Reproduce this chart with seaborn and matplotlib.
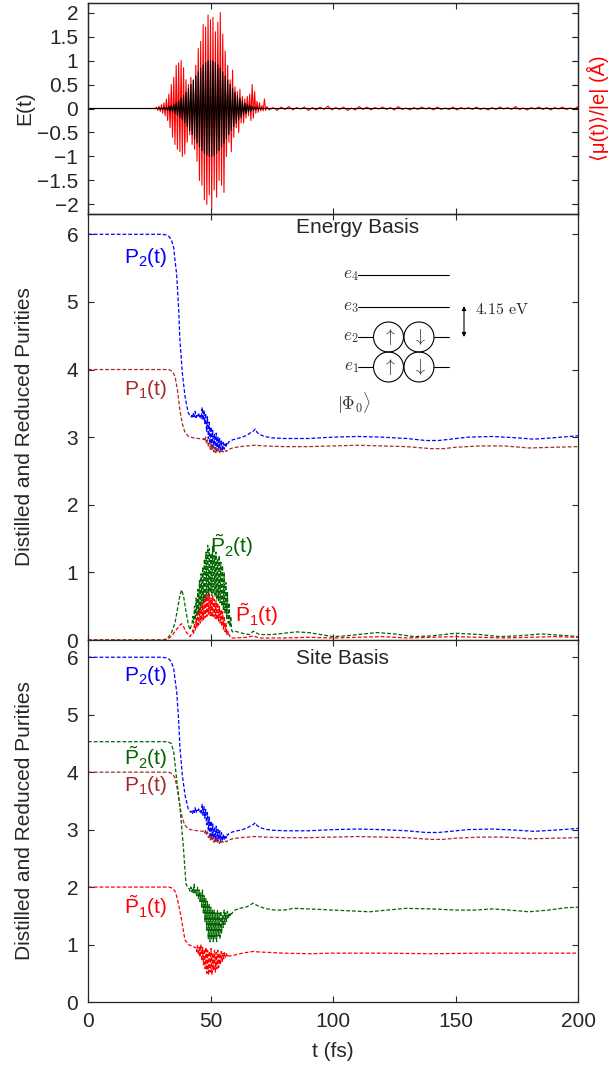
import numpy as np
import matplotlib as mpl
mpl.use("Agg")
import matplotlib.pyplot as plt
import seaborn as sns
from matplotlib.patches import Circle

# ---------------- data ----------------
t_ticks = [0, 50, 100, 150, 200]
e_ticks = [-2, -1.5, -1, -0.5, 0, 0.5, 1, 1.5, 2]
e_tick_labels = ["\u22122", "\u22121.5", "\u22121", "\u22120.5", "0", "0.5", "1", "1.5", "2"]
p_ticks = [0, 1, 2, 3, 4, 5, 6]

# laser field E(t): one value every half cycle between 25 and 75 fs
e_span = (25, 75)
e_osc = [
    0.001, -0.002, 0.002, -0.003, 0.003, -0.004, 0.005, -0.007, 0.009, -0.011,
    0.013, -0.016, 0.020, -0.025, 0.030, -0.037, 0.044, -0.053, 0.063, -0.074,
    0.088, -0.103, 0.12, -0.139, 0.161, -0.185, 0.211, -0.239, 0.27, -0.304,
    0.339, -0.377, 0.417, -0.458, 0.501, -0.544, 0.589, -0.633, 0.678, -0.721,
    0.763, -0.803, 0.841, -0.876, 0.907, -0.935, 0.958, -0.976, 0.989, -0.997,
    1.0,
    -0.997, 0.989, -0.976, 0.958, -0.935, 0.907, -0.876, 0.841, -0.803, 0.763,
    -0.721, 0.678, -0.633, 0.589, -0.544, 0.501, -0.458, 0.417, -0.377, 0.339,
    -0.304, 0.27, -0.239, 0.211, -0.185, 0.161, -0.139, 0.12, -0.103, 0.088,
    -0.074, 0.063, -0.053, 0.044, -0.037, 0.03, -0.025, 0.02, -0.016, 0.013,
    -0.011, 0.009, -0.007, 0.005, -0.004, 0.003, -0.003, 0.002, -0.002, 0.001,
]

# induced dipole <mu(t)>/|e|
mu_span = (28, 73)
mu_osc = [
    0.03, -0.04, 0.05, -0.06, 0.08, -0.1, 0.12, -0.15, 0.2, -0.25,
    0.3, -0.4, 0.5, -0.6, 0.65, -0.75, 0.9, -0.85, 0.95, -0.9,
    1.0, -1.0, 0.85, -0.95, 0.6, -0.7, 0.5, -0.55, 0.65, -0.75,
    0.6, -0.85, 0.9, -1.1, 1.25, -1.5, 1.4, -1.6, 1.75, -1.9,
    1.7, -2.0, 1.95, -1.8, 1.85, -2.1, 1.9, -1.7, 1.6, -1.85,
    1.8, -1.5, 2.0, -1.6, 1.55, -1.75, 1.2, -1.0, 0.9, -0.7,
    0.6, -0.9, 0.8, -0.6, 0.45, -0.4, 0.35, -0.5, 0.4, -0.3,
    0.25, -0.3, 0.2, -0.2, 0.25, -0.15, 0.3, -0.25, 0.5, -0.2,
    0.35, -0.1, 0.15, -0.08, 0.12, -0.05, 0.06, -0.05, 0.2, -0.04,
    0.04,
]
mu_tail_span = (74, 200)
mu_tail = [
    -0.03, 0.02, -0.04, 0.03, -0.02, 0.04, -0.03, 0.02, -0.01, 0.03,
    -0.04, 0.02, -0.03, 0.03, -0.02, 0.05, -0.03, 0.02, -0.02, 0.03,
    -0.04, 0.01, -0.03, 0.04, -0.02, 0.03, -0.03, 0.02, -0.01, 0.03,
    -0.02, 0.02, -0.03, 0.04, -0.02, 0.01, -0.03, 0.02, -0.02, 0.03,
    -0.01, 0.02, -0.03, 0.03, -0.02, 0.01, -0.02, 0.03, -0.03, 0.02,
    -0.01, 0.02, -0.02, 0.03, -0.02, 0.01, -0.03, 0.02, -0.02, 0.03,
    -0.01, 0.02, -0.02, 0.04, -0.02, 0.01, -0.03, 0.02, -0.01, 0.03,
    -0.02, 0.02, -0.03, 0.02, -0.01, 0.03, -0.02, 0.01, -0.02, 0.04,
]

# P2(t) (same in both bases)
p2_t_pre = [0, 30, 32, 33, 34, 35, 35.5, 36.2, 37, 37.5, 38.5, 39.6, 40.9, 42]
p2_v_pre = [6.0, 6.0, 5.99, 5.97, 5.92, 5.8, 5.62, 5.4, 4.9, 4.45, 3.95, 3.6, 3.36, 3.3]
p2_span = (42.3, 57)
p2_noise = [3.32, 3.28, 3.35, 3.3, 3.38, 3.29, 3.34, 3.31, 3.36, 3.3, 3.33, 3.27, 3.44, 3.25,
            3.4, 3.2, 3.35, 3.08, 3.3, 2.98, 3.22, 2.9, 3.15, 2.86, 3.1, 2.84, 3.05, 2.82,
            3.06, 2.8, 3.0, 2.82, 2.98, 2.78, 2.95, 2.8, 2.92, 2.82, 2.9, 2.85, 2.92, 2.9]
p2_t_post = [57.5, 59, 61, 63, 65, 66.5, 67.5, 68.3, 69, 70, 72, 75, 80, 90, 100, 110, 120,
             130, 138, 143, 148, 155, 165, 175, 182, 190, 200]
p2_v_post = [2.93, 2.96, 2.98, 3.0, 3.03, 3.07, 3.09, 3.12, 3.07, 3.04, 3.01, 2.99, 2.98, 2.98,
             3.0, 3.01, 3.0, 2.98, 2.95, 2.95, 2.97, 3.0, 3.01, 2.99, 2.97, 2.99, 3.02]

# P1(t) (same in both bases)
p1_t_pre = [0, 33, 34.5, 35.5, 36.5, 37.5, 38.5, 39.5, 41, 43, 45, 47]
p1_v_pre = [4.0, 4.0, 3.97, 3.9, 3.7, 3.4, 3.2, 3.08, 3.01, 2.99, 2.98, 2.97]
p1_span = (47.3, 57)
p1_noise = [2.98, 2.94, 3.0, 2.9, 2.96, 2.86, 2.92, 2.82, 2.9, 2.8, 2.86, 2.78, 2.85, 2.77,
            2.84, 2.78, 2.82, 2.76, 2.8, 2.77, 2.8, 2.78, 2.79, 2.78, 2.8, 2.79, 2.81]
p1_t_post = [57.5, 59, 62, 65, 68, 72, 80, 90, 100, 110, 120, 130, 140, 145, 150, 160, 170,
             180, 190, 200]
p1_v_post = [2.82, 2.84, 2.86, 2.87, 2.88, 2.87, 2.86, 2.86, 2.87, 2.88, 2.87, 2.86, 2.83,
             2.83, 2.85, 2.87, 2.87, 2.84, 2.85, 2.86]

# energy basis, distilled purities
ep2_t_pre = [0, 31, 32.5, 34, 35.5, 36.5, 37.5, 38.2, 39, 40, 41, 41.6, 42.5]
ep2_v_pre = [0, 0, 0.03, 0.1, 0.25, 0.45, 0.66, 0.74, 0.65, 0.42, 0.22, 0.15, 0.25]
ep2_span = (42.8, 58.6)
ep2_noise = [0.35, 0.25, 0.5, 0.3, 0.62, 0.35, 0.75, 0.4, 0.88, 0.45, 0.98, 0.5, 1.08, 0.55,
             1.2, 0.6, 1.3, 0.62, 1.4, 0.65, 1.35, 0.7, 1.28, 0.66, 1.38, 0.68, 1.25, 0.64,
             1.3, 0.6, 1.2, 0.58, 1.25, 0.55, 1.15, 0.5, 1.1, 0.45, 1.0, 0.4, 0.85, 0.32,
             0.7, 0.25, 0.55, 0.2, 0.35, 0.15]
ep2_t_post = [59, 60, 62, 64, 66, 67.4, 70, 75, 80, 85, 90, 95, 100, 105, 110, 118, 125, 133,
              140, 150, 160, 168, 175, 185, 193, 200]
ep2_v_post = [0.12, 0.13, 0.11, 0.09, 0.08, 0.13, 0.08, 0.08, 0.1, 0.12, 0.11, 0.08, 0.05,
              0.06, 0.08, 0.11, 0.09, 0.05, 0.06, 0.1, 0.08, 0.05, 0.06, 0.09, 0.07, 0.05]

ep1_t_pre = [0, 30, 32, 34, 36, 37.5, 38.2, 39, 40, 41.6, 42.5]
ep1_v_pre = [0, 0, 0.01, 0.05, 0.15, 0.22, 0.24, 0.2, 0.12, 0.05, 0.1]
ep1_span = (42.8, 58)
ep1_noise = [0.15, 0.1, 0.25, 0.15, 0.32, 0.18, 0.4, 0.22, 0.45, 0.25, 0.5, 0.28, 0.55, 0.3,
             0.62, 0.33, 0.68, 0.35, 0.65, 0.38, 0.69, 0.36, 0.62, 0.34, 0.66, 0.35, 0.6,
             0.32, 0.58, 0.3, 0.55, 0.28, 0.5, 0.25, 0.45, 0.2, 0.42, 0.16, 0.35, 0.12, 0.25,
             0.08, 0.15, 0.06, 0.08, 0.04]
ep1_t_post = [58.5, 60, 65, 67.4, 70, 80, 90, 100, 110, 120, 130, 140, 150, 160, 170, 180,
              190, 200]
ep1_v_post = [0.03, 0.03, 0.04, 0.06, 0.03, 0.03, 0.04, 0.03, 0.04, 0.05, 0.03, 0.04, 0.05,
              0.04, 0.03, 0.04, 0.05, 0.04]

# site basis, distilled purities
sp2_t_pre = [0, 32.5, 34, 35, 36.2, 37.5, 38.9, 40, 41]
sp2_v_pre = [4.53, 4.53, 4.5, 4.35, 3.87, 3.41, 2.71, 2.05, 1.98]
sp2_span = (41.3, 58.6)
sp2_noise = [1.97, 1.93, 2.0, 1.92, 1.98, 1.9, 2.05, 1.88, 1.95, 1.85, 2.0, 1.8, 1.95, 1.75,
             1.9, 1.65, 1.95, 1.55, 1.85, 1.4, 1.8, 1.25, 1.75, 1.1, 1.7, 1.05, 1.65, 1.1,
             1.6, 1.05, 1.6, 1.1, 1.55, 1.05, 1.6, 1.15, 1.55, 1.1, 1.58, 1.2, 1.5, 1.3,
             1.6, 1.35, 1.55, 1.4, 1.58, 1.45, 1.55, 1.5, 1.56, 1.53]
sp2_t_post = [59, 60, 62, 65, 67.4, 69, 72, 76, 80, 84, 90, 100, 110, 115, 122, 130, 140,
              150, 158, 165, 172, 180, 188, 195, 200]
sp2_v_post = [1.56, 1.6, 1.63, 1.66, 1.72, 1.68, 1.63, 1.6, 1.6, 1.63, 1.62, 1.6, 1.58, 1.57,
              1.6, 1.63, 1.62, 1.6, 1.6, 1.62, 1.6, 1.57, 1.6, 1.64, 1.65]

sp1_t_pre = [0, 33, 34.5, 35.5, 36.2, 37.2, 38.2, 39, 39.6, 41, 43.7]
sp1_v_pre = [2.0, 2.0, 1.98, 1.93, 1.84, 1.65, 1.43, 1.22, 1.08, 1.0, 0.95]
sp1_span = (44, 57.5)
sp1_noise = [0.95, 0.88, 0.98, 0.82, 0.95, 0.78, 1.0, 0.72, 0.95, 0.65, 0.92, 0.58, 0.95,
             0.5, 0.9, 0.47, 0.88, 0.52, 0.93, 0.48, 0.85, 0.55, 0.9, 0.52, 0.86, 0.58, 0.9,
             0.6, 0.85, 0.65, 0.88, 0.7, 0.85, 0.75, 0.86, 0.78, 0.84, 0.8, 0.83, 0.8]
sp1_t_post = [58, 60, 63, 67.4, 70, 75, 80, 90, 100, 120, 140, 160, 180, 200]
sp1_v_post = [0.8, 0.82, 0.85, 0.88, 0.87, 0.86, 0.85, 0.84, 0.85, 0.85, 0.84, 0.85, 0.85, 0.85]

BLUE = "#0000ff"
BROWN = "#a52a2a"
GREEN = "#006400"
RED = "#ff0000"


def join(t_pre, v_pre, noise, span, t_post, v_post):
    t = list(t_pre) + list(np.linspace(span[0], span[1], len(noise))) + list(t_post)
    v = list(v_pre) + list(noise) + list(v_post)
    return np.array(t, float), np.array(v, float)


def trace(ax, t, v, color, dashed=True, lw=0.9):
    sns.lineplot(
        x=t, y=v, ax=ax, color=color, linewidth=lw,
        linestyle=(0, (3, 1.6)) if dashed else "-",
        sort=False, estimator=None, legend=False,
    )


def px_rect(left, top, right, bottom, W=613, H=1073):
    return [left / W, 1 - bottom / H, (right - left) / W, (bottom - top) / H]


def style_axis(ax, show_x):
    ax.set_xlim(0, 200)
    ax.set_xticks(t_ticks)
    ax.tick_params(direction="in", length=4.5, width=0.8, top=True, right=True,
                   labelbottom=show_x, pad=7, labelsize=15)
    ax.set_xlabel("")
    ax.set_ylabel("")
    for s in ax.spines.values():
        s.set_linewidth(0.9)
        s.set_visible(True)


sns.set_style("ticks")
plt.rcParams["font.family"] = ["Liberation Sans", "DejaVu Sans"]
plt.rcParams["font.size"] = 15
plt.rcParams["mathtext.fontset"] = "custom"
plt.rcParams["mathtext.rm"] = "Liberation Sans"
plt.rcParams["mathtext.it"] = "Liberation Sans:italic"
plt.rcParams["mathtext.bf"] = "Liberation Sans:bold"

fig = plt.figure(figsize=(6.13, 10.73), dpi=100)
ax_e = fig.add_axes(px_rect(88, 3, 578, 214))
ax_m = fig.add_axes(px_rect(88, 214, 578, 640))
ax_s = fig.add_axes(px_rect(88, 640, 578, 1002))

# ---------------- top panel: field and dipole ----------------
ax_mu = ax_e.twinx()
mu_t, mu_v = join([0, 27.5], [0, 0], mu_osc, mu_span, [], [])
mu_t = np.concatenate([mu_t, np.linspace(*mu_tail_span, len(mu_tail))])
mu_v = np.concatenate([mu_v, mu_tail])
trace(ax_mu, mu_t, mu_v, RED, dashed=False, lw=0.8)

e_t, e_v = join([0, 24.5], [0, 0], e_osc, e_span, [75.5, 200], [0, 0])
trace(ax_e, e_t, e_v, "black", dashed=False, lw=0.8)
ax_e.set_zorder(ax_mu.get_zorder() + 1)
ax_e.patch.set_visible(False)

for a in (ax_e, ax_mu):
    style_axis(a, False)
    a.set_ylim(-2.2, 2.2)
    a.set_yticks(e_ticks)
ax_e.set_yticklabels(e_tick_labels)
ax_mu.tick_params(labelright=False, right=True)
ax_e.set_ylabel("E(t)", fontsize=15)
ax_e.yaxis.set_label_coords(-0.11, 0.5)
ax_mu.set_ylabel("\u27e8\u03bc(t)\u27e9/|e| (\u00c5)", color=RED, fontsize=14.5)
ax_mu.yaxis.set_label_coords(1.019, 0.5)

# ---------------- middle panel: energy basis ----------------
p2_t, p2_v = join(p2_t_pre, p2_v_pre, p2_noise, p2_span, p2_t_post, p2_v_post)
p1_t, p1_v = join(p1_t_pre, p1_v_pre, p1_noise, p1_span, p1_t_post, p1_v_post)

trace(ax_m, p2_t, p2_v, BLUE)
trace(ax_m, p1_t, p1_v, BROWN)
trace(ax_m, *join(ep2_t_pre, ep2_v_pre, ep2_noise, ep2_span, ep2_t_post, ep2_v_post), GREEN)
trace(ax_m, *join(ep1_t_pre, ep1_v_pre, ep1_noise, ep1_span, ep1_t_post, ep1_v_post), RED)
style_axis(ax_m, False)
ax_m.set_ylim(0, 6.3)
ax_m.set_yticks(p_ticks)
ax_m.set_ylabel("Distilled and Reduced Purities", fontsize=15)
ax_m.yaxis.set_label_coords(-0.11, 0.5)

ax_m.text(85, 6.1, "Energy Basis", ha="left", va="center", fontsize=15)
ax_m.text(23.3, 5.65, "P$_2$(t)", color=BLUE, ha="center", va="center", fontsize=15)
ax_m.text(23.3, 3.7, "P$_1$(t)", color=BROWN, ha="center", va="center", fontsize=15)
ax_m.text(58.6, 1.4, r"$\tilde{\mathrm{P}}_2$(t)", color=GREEN, ha="center", va="center", fontsize=15)
ax_m.text(68.8, 0.37, r"$\tilde{\mathrm{P}}_1$(t)", color=RED, ha="center", va="center", fontsize=15)

# level diagram (pixel-like units inside an inset)
ax_in = fig.add_axes(px_rect(330, 260, 540, 415))
ax_in.set_xlim(330, 540)
ax_in.set_ylim(415, 260)
ax_in.axis("off")
level_names = ["e_4", "e_3", "e_2", "e_1"]
level_y = [275, 307, 337, 367]
occupied = [False, False, True, True]
for name, y, occ in zip(level_names, level_y, occupied):
    ax_in.text(359, y + 1, f"${name}$", ha="right", va="center", fontsize=12.5,
               math_fontfamily="cm", color="#333333")
    if occ:
        ax_in.plot([358, 373], [y, y], color="black", lw=0.8)
        ax_in.plot([434, 449], [y, y], color="black", lw=0.8)
        for cx, arrow in [(388.5, r"$\uparrow$"), (419, r"$\downarrow$")]:
            ax_in.add_patch(Circle((cx, y), 15, fill=False, lw=0.8, color="black"))
            ax_in.text(cx, y, arrow, ha="center", va="center", fontsize=13,
                       math_fontfamily="cm", color="#333333")
    else:
        ax_in.plot([358, 449], [y, y], color="black", lw=0.8)
ax_in.annotate("", xy=(464, 306), xytext=(464, 337),
               arrowprops=dict(arrowstyle="<|-|>", color="black", lw=0.8,
                               mutation_scale=6, shrinkA=0, shrinkB=0))
ax_in.text(475, 309, r"$4.15\ \mathrm{eV}$", ha="left", va="center", fontsize=11.5,
           math_fontfamily="cm")
ax_in.text(337, 403, r"$|\Phi_0\rangle$", ha="left", va="center", fontsize=12.5,
           math_fontfamily="cm", color="#333333")

# ---------------- bottom panel: site basis ----------------
trace(ax_s, p2_t, p2_v, BLUE)
trace(ax_s, p1_t, p1_v, BROWN)
trace(ax_s, *join(sp2_t_pre, sp2_v_pre, sp2_noise, sp2_span, sp2_t_post, sp2_v_post), GREEN)
trace(ax_s, *join(sp1_t_pre, sp1_v_pre, sp1_noise, sp1_span, sp1_t_post, sp1_v_post), RED)
style_axis(ax_s, True)
ax_s.set_ylim(0, 6.3)
ax_s.set_yticks(p_ticks)
ax_s.set_ylabel("Distilled and Reduced Purities", fontsize=15)
ax_s.yaxis.set_label_coords(-0.11, 0.5)
ax_s.set_xlabel("t (fs)", fontsize=15, labelpad=8)

ax_s.text(85, 5.97, "Site Basis", ha="left", va="center", fontsize=15)
ax_s.text(23.3, 5.68, "P$_2$(t)", color=BLUE, ha="center", va="center", fontsize=15)
ax_s.text(23.3, 4.26, r"$\tilde{\mathrm{P}}_2$(t)", color=GREEN, ha="center", va="center", fontsize=15)
ax_s.text(23.3, 3.76, "P$_1$(t)", color=BROWN, ha="center", va="center", fontsize=15)
ax_s.text(23.3, 1.66, r"$\tilde{\mathrm{P}}_1$(t)", color=RED, ha="center", va="center", fontsize=15)

fig.savefig("out.png", dpi=100)
